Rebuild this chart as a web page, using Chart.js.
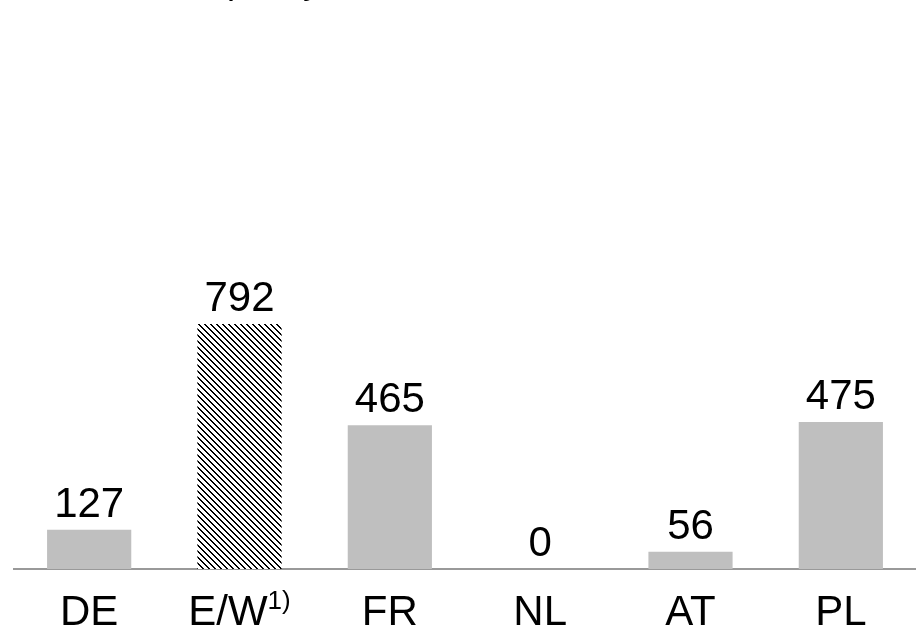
<!DOCTYPE html>
<html>
<head>
<meta charset="utf-8">
<script src="https://cdn.jsdelivr.net/npm/chart.js@4.4.1/dist/chart.umd.min.js"></script>
<style>
  html, body { margin: 0; padding: 0; background: #fff; }
  #wrap { width: 916px; height: 629px; position: relative; }
</style>
</head>
<body>
<div id="wrap"><canvas id="graph"></canvas></div>
<script>
let categories = ['DE', 'E/W', 'FR', 'NL', 'AT', 'PL'];
let footnotes = ['', '1)', '', '', '', ''];
let values = [127, 792, 465, 0, 56, 475];
let hatched = [false, true, false, false, false, false];

let font = '"Liberation Sans", Arial, sans-serif';

// diagonal black hatch for the estimated bar
function makeHatch() {
  let c = document.createElement('canvas');
  c.width = 6;
  c.height = 6;
  let g = c.getContext('2d');
  g.fillStyle = '#fff';
  g.fillRect(0, 0, 6, 6);
  g.fillStyle = '#000';
  for (let y = 0; y < 6; y++) {
    g.fillRect(y % 6, y, 1, 1);
    g.fillRect((y + 1) % 6, y, 1, 1);
  }
  return g.createPattern(c, 'repeat');
}

let ctx = document.getElementById('graph').getContext('2d');
let hatch = makeHatch();
let barColors = hatched.map(h => h ? hatch : '#bfbfbf');

let labelsPlugin = {
  id: 'labels',
  afterDatasetsDraw(chart) {
    let c = chart.ctx;
    let meta = chart.getDatasetMeta(0);
    let xs = chart.scales.x;
    c.save();
    c.fillStyle = '#000';
    c.textBaseline = 'alphabetic';

    // title line, mostly above the canvas edge
    c.font = '36px ' + font;
    c.textAlign = 'left';
    c.fillText('Capacity', 181, -7);

    // values above the bars
    c.font = '42px ' + font;
    c.textAlign = 'center';
    meta.data.forEach((bar, i) => {
      c.fillText(String(values[i]), bar.x, bar.y - 13);
    });

    // category names under the axis, with superscript notes
    categories.forEach((cat, i) => {
      let cx = xs.getPixelForValue(i);
      c.font = '42px ' + font;
      let w = c.measureText(cat).width;
      let note = footnotes[i];
      let nw = 0;
      if (note) {
        c.font = '26px ' + font;
        nw = c.measureText(note).width;
      }
      let left = cx - (w + nw) / 2;
      c.textAlign = 'left';
      c.font = '42px ' + font;
      c.fillText(cat, left, 625);
      if (note) {
        c.font = '26px ' + font;
        c.fillText(note, left + w, 609);
      }
    });
    c.restore();
  }
};

new Chart(ctx, {
  type: 'bar',
  data: {
    labels: categories,
    datasets: [{
      data: values,
      backgroundColor: barColors,
      borderWidth: 0,
      barPercentage: 0.56,
      categoryPercentage: 1.0
    }]
  },
  options: {
    responsive: true,
    maintainAspectRatio: false,
    animation: false,
    layout: { padding: { left: 14, right: 0, top: 0, bottom: 52 } },
    plugins: {
      legend: { display: false },
      tooltip: { enabled: false },
      title: { display: false }
    },
    scales: {
      x: {
        grid: { display: false },
        ticks: { display: false },
        border: { display: true, color: '#999', width: 2 }
      },
      y: {
        display: false,
        min: 0,
        max: 1840
      }
    }
  },
  plugins: [labelsPlugin]
});
</script>
</body>
</html>
